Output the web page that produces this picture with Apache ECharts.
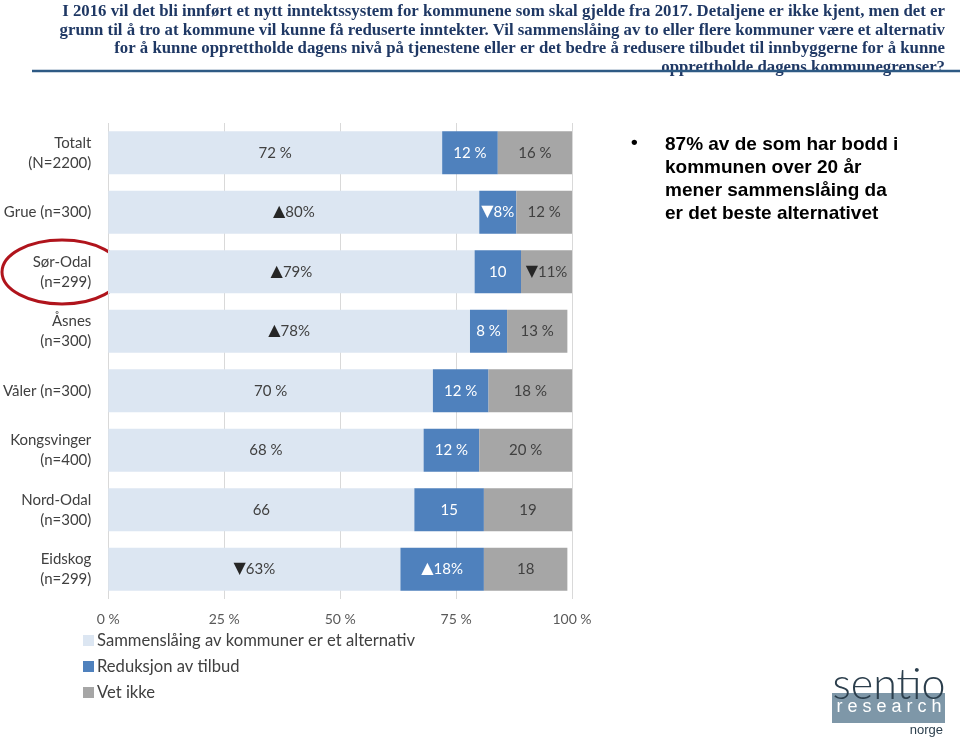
<!DOCTYPE html>
<html><head><meta charset="utf-8">
<script src="https://cdn.jsdelivr.net/npm/echarts@6/dist/echarts.min.js"></script>
<style>html,body{margin:0;padding:0;background:#fff}#c{width:960px;height:751px}</style>
</head><body><div id="c"></div>
<script>
const categories = ["Totalt\n(N=2200)", "Grue (n=300)", "Sør-Odal\n(n=299)", "Åsnes\n(n=300)", "Våler (n=300)", "Kongsvinger\n(n=400)", "Nord-Odal\n(n=300)", "Eidskog\n(n=299)"];
const seriesNames = ["Sammenslåing av kommuner er et alternativ", "Reduksjon av tilbud", "Vet ikke"];
const sammenslaing = [72, 80, 79, 78, 70, 68, 66, 63];
const reduksjon = [12, 8, 10, 8, 12, 12, 15, 18];
const vetIkke = [16, 12, 11, 13, 18, 20, 19, 18];
const labelsSammen = ["72 %", "▲80%", "▲79%", "▲78%", "70 %", "68 %", "66", "▼63%"];
const labelsRed = ["12 %", "▼8%", "10", "8 %", "12 %", "12 %", "15", "▲18%"];
const labelsVet = ["16 %", "12 %", "▼11%", "13 %", "18 %", "20 %", "19", "18"];
const xTicks = [0, 25, 50, 75, 100];

const titleLines = [
  "I 2016 vil det bli innført et nytt inntektssystem for kommunene som skal gjelde fra 2017. Detaljene er ikke kjent, men det er",
  "grunn til å tro at kommune vil kunne få reduserte inntekter. Vil sammenslåing av to eller flere kommuner være et alternativ",
  "for å kunne opprettholde dagens nivå på tjenestene eller er det bedre å redusere tilbudet til innbyggerne for å kunne",
  "opprettholde dagens kommunegrenser?"
];
const bulletText = "87% av de som har bodd i\nkommunen over 20 år\nmener sammenslåing da\ner det beste alternativet";

const FONT = "Lato, 'Open Sans', sans-serif";
const colors = ["#DCE6F2", "#4F81BD", "#A6A6A6"];
const labelSets = [labelsSammen, labelsRed, labelsVet];
const dataSets = [sammenslaing, reduksjon, vetIkke];
const labelColors = ["#404040", "#ffffff", "#404040"];

function richLabel(s) {
  return s.replace(/([▲▼])/g, '{t|$1}');
}

const titleGraphics = titleLines.map((line, i) => ({
  type: 'text', x: 945, y: 3 + i * 18.8,
  style: {text: line, fill: '#1F3864', font: "bold 16.8px 'Liberation Serif', serif", align: 'right', verticalAlign: 'top'}
}));

const chart = echarts.init(document.getElementById('c'), null, {renderer: 'canvas'});
chart.setOption({
  animation: false,
  backgroundColor: '#ffffff',
  grid: {left: 107, right: 388, top: 123, bottom: 152, containLabel: false},
  xAxis: {
    type: 'value', min: xTicks[0], max: xTicks[xTicks.length - 1], interval: 25,
    axisLine: {show: false}, axisTick: {show: false},
    splitLine: {show: true, lineStyle: {color: '#D9D9D9', width: 1}},
    axisLabel: {formatter: '{value} %', color: '#595959', fontFamily: FONT, fontSize: 14, margin: 13}
  },
  yAxis: {
    type: 'category', data: categories, inverse: true,
    axisLine: {show: false}, axisTick: {show: false},
    axisLabel: {color: '#404040', fontFamily: FONT, fontSize: 15, lineHeight: 20, margin: 17, align: 'right'}
  },
  legend: {
    orient: 'vertical', left: 78, top: 627, itemGap: 9, itemWidth: 11, itemHeight: 11,
    icon: 'rect', data: seriesNames,
    textStyle: {color: '#404040', fontFamily: FONT, fontSize: 16.6, padding: [0, 0, 0, -2]}
  },
  series: seriesNames.map((name, i) => ({
    name: name, type: 'bar', stack: 'total', barCategoryGap: '28%',
    data: dataSets[i],
    itemStyle: {color: colors[i]},
    label: {
      show: true, position: 'inside', color: labelColors[i], fontFamily: FONT, fontSize: 15,
      formatter: p => richLabel(labelSets[i][p.dataIndex]),
      rich: {t: {fontFamily: "'DejaVu Sans', sans-serif", fontSize: 16, color: labelColors[i] === '#ffffff' ? '#ffffff' : '#262626'}}
    }
  })),
  graphic: titleGraphics.concat([
    {type: 'line', shape: {x1: 32, y1: 71, x2: 960, y2: 71}, style: {stroke: '#2E5A84', lineWidth: 2.5}},
    {type: 'text', left: 631, top: 133, style: {text: '•', fill: '#000', font: "bold 19px 'Liberation Sans', Arial, sans-serif"}},
    {type: 'text', left: 665, top: 133, style: {text: bulletText, fill: '#000', font: "bold 19px 'Liberation Sans', Arial, sans-serif", lineHeight: 23}},
    {type: 'ellipse', shape: {cx: 62, cy: 272, rx: 60, ry: 32}, style: {fill: 'none', stroke: '#B0141C', lineWidth: 3}},
    {type: 'rect', shape: {x: 832, y: 693, width: 113, height: 30}, style: {fill: '#7E97A8'}},
    {type: 'text', x: 889, y: 664, style: {text: 'sentio', fill: '#2B3E4C', font: "300 43px Lato, 'Open Sans', sans-serif", align: 'center', verticalAlign: 'top'}},
    {type: 'text', x: 889, y: 698, style: {text: 'r e s e a r c h', fill: '#ffffff', font: "18px 'Liberation Sans Narrow', 'Liberation Sans', sans-serif", align: 'center', verticalAlign: 'top'}},
    {type: 'text', x: 943, y: 724, style: {text: 'norge', fill: '#2B3E4C', font: "13px 'Liberation Sans', sans-serif", align: 'right', verticalAlign: 'top'}}
  ])
});
</script></body></html>
